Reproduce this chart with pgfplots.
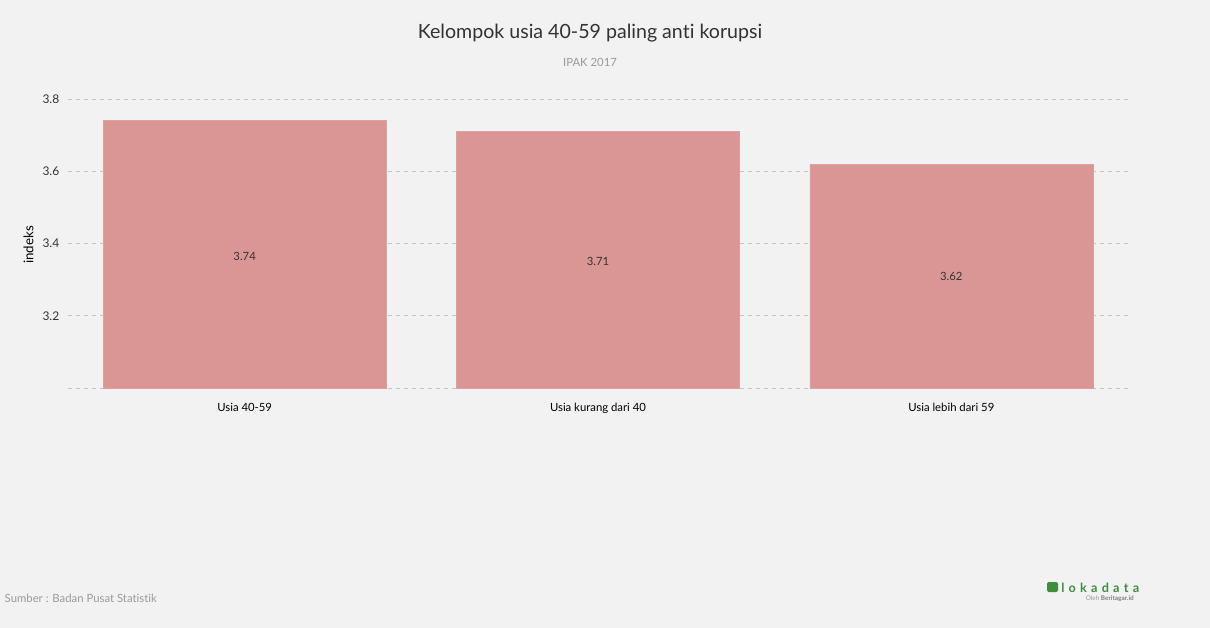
\documentclass[border=0pt]{standalone}
\usepackage{pgfplots}
\pgfplotsset{compat=1.18}
\usepackage{fontspec}
\setmainfont{Lato}[Ligatures=NoCommon]
\definecolor{bg}{HTML}{F2F2F2}
\definecolor{barc}{HTML}{D99694}
\definecolor{gridc}{HTML}{C4C4C4}
\definecolor{txt}{HTML}{333333}
\definecolor{sub}{HTML}{9A9A9A}
\definecolor{lgreen}{HTML}{3E8E3E}
\begin{document}
\begin{tikzpicture}[x=0.75pt,y=-0.75pt]
\fill[bg] (0,0) rectangle (1210,628);
\coordinate (A) at (68,388);
\begin{axis}[
  at={(A)}, anchor=south west,
  scale only axis, width=795pt, height=216.75pt,
  xmin=-0.5, xmax=2.5, ymin=3, ymax=3.8,
  axis line style={draw=none},
  tick style={draw=none},
  xtick={0,1,2},
  xticklabels={Usia 40-59,Usia kurang dari 40,Usia lebih dari 59},
  ytick={3,3.2,3.4,3.6,3.8},
  yticklabels={,3.2,3.4,3.6,3.8},
  y tick label style={/pgf/number format/fixed, font=\fontsize{9}{10}\selectfont, text=txt, xshift=-3pt},
  x tick label style={font=\fontsize{8.5}{10}\selectfont, text=black, yshift=-8pt},
  ymajorgrids, grid style={gridc, dashed, dash pattern=on 3pt off 3pt, line width=0.5pt},
  ylabel={indeks}, ylabel style={font=\fontsize{8.5}{10}\selectfont, text=black},
  every axis y label/.style={at={(ticklabel cs:0.5)}, rotate=90, anchor=south, xshift=-1pt},
  clip=false,
]
\addplot[ybar, bar width=212.25pt, fill=barc, draw=barc!90!white, bar shift=0pt] coordinates {(0,3.74) (1,3.71) (2,3.62)};
\addplot[only marks, mark=none, nodes near coords, point meta=explicit symbolic,
  every node near coord/.style={anchor=center, font=\fontsize{8.5}{10}\selectfont, text=txt}]
  table[meta=lab] {
x y lab
0 3.365 3.74
1 3.35 3.71
2 3.31 3.62
};
\end{axis}
\node[font=\fontsize{14.7}{18}\selectfont, text=txt] at (590,33) {Kelompok usia 40-59 paling anti korupsi};
\node[font=\fontsize{8.5}{10}\selectfont, text=sub] at (590,62) {IPAK 2017};
\node[font=\fontsize{8.5}{10}\selectfont, text=sub, anchor=west] at (0,598) {Sumber : Badan Pusat Statistik};
\fill[lgreen, rounded corners=1.5pt] (1047,582) rectangle (1058,592);
\node[font=\fontsize{9.5}{10}\selectfont\bfseries, text=lgreen, anchor=west, inner sep=0pt] at (1061,588) {l\,\,o\,\,k\,\,a\,\,d\,\,a\,\,t\,\,a};
\node[font=\fontsize{4.8}{5}\selectfont, text=sub, anchor=east, inner sep=0pt] at (1134,599) {Oleh \textcolor{gray}{\bfseries Beritagar.id}};
\end{tikzpicture}
\end{document}
